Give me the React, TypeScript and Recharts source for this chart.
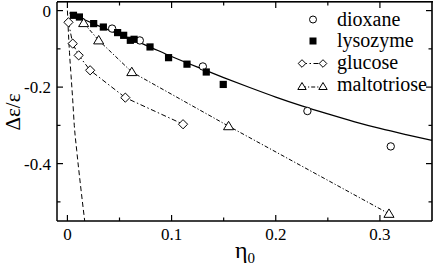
import React from "react";
import { ComposedChart, Line, XAxis, YAxis } from "recharts";

// measured points: [eta0, delta eps / eps]
const dioxane = [
  [0.0429, -0.047],
  [0.0695, -0.078],
  [0.13, -0.146],
  [0.2304, -0.2625],
  [0.3104, -0.355],
];

const lysozyme = [
  [0.0058, -0.0123],
  [0.0115, -0.0167],
  [0.0252, -0.034],
  [0.0345, -0.043],
  [0.0482, -0.0575],
  [0.054, -0.0646],
  [0.0604, -0.0776],
  [0.064, -0.075],
  [0.0793, -0.095],
  [0.0971, -0.123],
  [0.1148, -0.14],
  [0.1333, -0.1605],
  [0.1496, -0.193],
];

const glucose = [
  [0.001, -0.0306],
  [0.0051, -0.0863],
  [0.0108, -0.117],
  [0.0218, -0.156],
  [0.0556, -0.2275],
  [0.111, -0.297],
];

const maltotriose = [
  [0.0156, -0.0324],
  [0.03, -0.0776],
  [0.0618, -0.1605],
  [0.1547, -0.302],
  [0.3087, -0.531],
];

// solid theory curve
const fitCurve = [
  [0.002, -0.006],
  [0.01, -0.016],
  [0.025, -0.034],
  [0.05, -0.062],
  [0.075, -0.09],
  [0.1, -0.12],
  [0.125, -0.148],
  [0.15, -0.175],
  [0.175, -0.201],
  [0.2, -0.226],
  [0.225, -0.249],
  [0.25, -0.27],
  [0.275, -0.29],
  [0.3, -0.308],
  [0.325, -0.324],
  [0.35, -0.339],
];

// dashed curve near the origin
const steepCurve = [
  [0, 0],
  [0.001, -0.06],
  [0.002, -0.11],
  [0.0035, -0.17],
  [0.0051, -0.234],
  [0.0066, -0.3],
  [0.0089, -0.365],
  [0.0125, -0.455],
  [0.0166, -0.55],
];

const xTicks = [0, 0.05, 0.1, 0.15, 0.2, 0.25, 0.3];
const xLabels: Record<string, string> = { "0": "0", "0.1": "0.1", "0.2": "0.2", "0.3": "0.3" };
const yTicks = [-0.5, -0.4, -0.3, -0.2, -0.1, 0];
const yLabels: Record<string, string> = { "0": "0", "-0.2": "-0.2", "-0.4": "-0.4" };
const xDomain = [-0.01, 0.35];
const yDomain = [-0.55, 0.0225];

const toRows = (pts: number[][]) => pts.map(([x, y]) => ({ x, y }));

// chart box (pixels)
const W = 436;
const H = 269;
const PLOT_LEFT = 57;
const PLOT_TOP = 2;
const PLOT_RIGHT = 432;
const PLOT_BOTTOM = 221;

const FONT = "'Liberation Serif', 'DejaVu Serif', serif";
const MAJOR = 6;
const MINOR = 3.5;

const isMajor = (v: number, labels: Record<string, string>) => labels[String(v)] !== undefined;

// bottom tick also mirrors itself on the top edge of the box
const BottomTick = (p: any) => {
  const v = p.payload.value;
  const len = isMajor(v, xLabels) ? MAJOR : MINOR;
  return (
    <g>
      <line x1={p.x} x2={p.x} y1={p.y} y2={p.y - len} stroke="#000" strokeWidth={1.2} />
      <line x1={p.x} x2={p.x} y1={PLOT_TOP} y2={PLOT_TOP + len} stroke="#000" strokeWidth={1.2} />
      {xLabels[String(v)] && (
        <text x={p.x} y={p.y + 19} textAnchor="middle" fontSize={17} fontFamily={FONT} fill="#000">
          {xLabels[String(v)]}
        </text>
      )}
    </g>
  );
};

// left tick also mirrors itself on the right edge of the box
const LeftTick = (p: any) => {
  const v = p.payload.value;
  const len = isMajor(v, yLabels) ? MAJOR : MINOR;
  return (
    <g>
      <line x1={p.x} x2={p.x + len} y1={p.y} y2={p.y} stroke="#000" strokeWidth={1.2} />
      <line x1={PLOT_RIGHT} x2={PLOT_RIGHT - len} y1={p.y} y2={p.y} stroke="#000" strokeWidth={1.2} />
      {yLabels[String(v)] && (
        <text x={p.x - 6} y={p.y} dy="0.35em" textAnchor="end" fontSize={17} fontFamily={FONT} fill="#000">
          {yLabels[String(v)]}
        </text>
      )}
    </g>
  );
};

const circleDot = (p: any) => (
  <circle key={`c${p.index}`} cx={p.cx} cy={p.cy} r={3.7} fill="#fff" stroke="#000" strokeWidth={1} />
);
const squareDot = (p: any) => (
  <rect key={`s${p.index}`} x={p.cx - 3.6} y={p.cy - 3.6} width={7.2} height={7.2} fill="#000" />
);
const diamondPts = (cx: number, cy: number, r: number) =>
  `${cx},${cy - r} ${cx + r},${cy} ${cx},${cy + r} ${cx - r},${cy}`;
const trianglePts = (cx: number, cy: number, r: number) =>
  `${cx},${cy - r} ${cx + r * 1.05},${cy + r * 0.75} ${cx - r * 1.05},${cy + r * 0.75}`;
const diamondDot = (p: any) => (
  <polygon key={`d${p.index}`} points={diamondPts(p.cx, p.cy, 4.6)} fill="#fff" stroke="#000" strokeWidth={1} />
);
const triangleDot = (p: any) => (
  <polygon key={`t${p.index}`} points={trianglePts(p.cx, p.cy, 4.8)} fill="#fff" stroke="#000" strokeWidth={1} />
);

const GLUCOSE_DASH = "5 2.5 1.5 2.5";
const MALTO_DASH = "4 2 1.2 2";

function Overlay() {
  const tx = 337;
  return (
    <svg width={W} height={H} style={{ position: "absolute", left: 0, top: 0, pointerEvents: "none" }}>
      {/* box: top and right edges */}
      <rect x={PLOT_LEFT} y={PLOT_TOP - 1} width={PLOT_RIGHT - PLOT_LEFT + 1} height={1.6} fill="#000" />
      <rect x={PLOT_RIGHT - 0.8} y={PLOT_TOP - 1} width={1.6} height={PLOT_BOTTOM - PLOT_TOP + 1} fill="#000" />
      <g fontSize={20} fill="#000" fontFamily={FONT}>
        <circle cx={313} cy={19.5} r={3.5} fill="#fff" stroke="#000" />
        <text x={tx} y={25.5}>dioxane</text>
        <rect x={309.5} y={37.5} width={7} height={7} fill="#000" />
        <text x={tx} y={46.5}>lysozyme</text>
        <line x1={302} x2={323} y1={63.5} y2={63.5} stroke="#000" strokeDasharray={GLUCOSE_DASH} />
        <polygon points={diamondPts(302, 63.5, 3.8)} fill="#fff" stroke="#000" />
        <polygon points={diamondPts(323, 63.5, 3.8)} fill="#fff" stroke="#000" />
        <text x={tx} y={68.5}>glucose</text>
        <line x1={302} x2={323} y1={87} y2={87} stroke="#000" strokeDasharray={MALTO_DASH} />
        <polygon points={trianglePts(302, 86.5, 4)} fill="#fff" stroke="#000" />
        <polygon points={trianglePts(323, 86.5, 4)} fill="#fff" stroke="#000" />
        <text x={tx} y={91}>maltotriose</text>
        <text transform="translate(20,112) rotate(-90)" textAnchor="middle" fontSize={21}>
          Δε/ε
        </text>
        <text x={245} y={258} textAnchor="middle" fontSize={24}>
          η<tspan fontSize={15} dy={5}>0</tspan>
        </text>
      </g>
    </svg>
  );
}

export default function App() {
  return (
    <div style={{ position: "absolute", left: 0, top: 0, width: W, height: H, background: "#fff" }}>
      <ComposedChart
        width={W}
        height={H}
        margin={{ top: PLOT_TOP, right: W - PLOT_RIGHT, bottom: 0, left: 0 }}
      >
        <XAxis
          dataKey="x"
          type="number"
          domain={xDomain}
          ticks={xTicks}
          allowDataOverflow
          height={H - PLOT_BOTTOM}
          tickSize={0}
          tickMargin={0}
          tickLine={false}
          axisLine={{ stroke: "#000", strokeWidth: 1.5 }}
          tick={BottomTick}
          interval={0}
        />
        <YAxis
          type="number"
          domain={yDomain}
          ticks={yTicks}
          allowDataOverflow
          width={PLOT_LEFT}
          tickSize={0}
          tickMargin={0}
          tickLine={false}
          axisLine={{ stroke: "#000", strokeWidth: 1.5 }}
          tick={LeftTick}
          interval={0}
        />
        <Line data={toRows(fitCurve)} dataKey="y" type="monotone" stroke="#000" strokeWidth={1.3} dot={false} isAnimationActive={false} />
        <Line data={toRows(steepCurve)} dataKey="y" type="monotone" stroke="#000" strokeWidth={1} strokeDasharray="5 3" dot={false} isAnimationActive={false} />
        <Line data={toRows(glucose)} dataKey="y" type="linear" stroke="#000" strokeWidth={1} strokeDasharray={GLUCOSE_DASH} dot={diamondDot} isAnimationActive={false} />
        <Line data={toRows(maltotriose)} dataKey="y" type="linear" stroke="#000" strokeWidth={1} strokeDasharray={MALTO_DASH} dot={triangleDot} isAnimationActive={false} />
        <Line data={toRows(dioxane)} dataKey="y" stroke="none" dot={circleDot} isAnimationActive={false} />
        <Line data={toRows(lysozyme)} dataKey="y" stroke="none" dot={squareDot} isAnimationActive={false} />
      </ComposedChart>
      <Overlay />
    </div>
  );
}
